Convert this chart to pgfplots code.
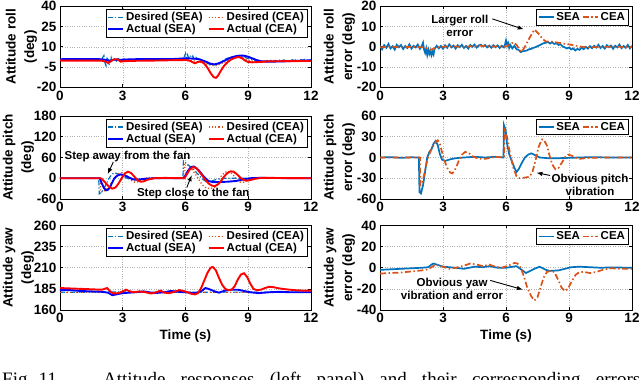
\documentclass[border=0pt]{standalone}
\usepackage{fontspec}
\setmainfont{Liberation Sans}
\newfontfamily\capfont{Liberation Serif}
\usepackage{pgfplots}
\pgfplotsset{compat=1.18}
\usetikzlibrary{arrows.meta}

\definecolor{mblue}{RGB}{0,114,189}
\definecolor{morange}{RGB}{217,83,25}
\newcommand{\tf}{\bfseries\fontsize{13.5}{18.5}\selectfont}
\newcommand{\af}{\bfseries\fontsize{11.5}{13}\selectfont}

\tikzset{arr/.style={-{Latex[length=6pt,width=4.5pt]}, line width=0.9pt, black}}

\pgfplotsset{
  panel/.style={
    scale only axis, xmin=0, xmax=12, xtick={0,3,6,9,12},
    grid=major, grid style={dotted, line width=0.5pt, gray!60},
    axis line style={line width=0.6pt},
    tick align=inside, major tick length=3pt,
    tick style={line width=0.6pt, black},
    ticklabel style={font=\tf},
    label style={font=\tf},
    ylabel style={align=center},
    /pgf/number format/assume math mode=true,
    clip mode=individual,
    legend cell align=left,
    legend style={font=\af, draw=black, inner sep=1pt, row sep=-2pt,
      at={(rel axis cs:0.985,0.965)}, anchor=north east},
    legend image code/.code={\draw[##1] (0pt,0pt) -- (15pt,0pt);},
  },
  leftp/.style={panel, width=251pt, legend columns=2, ylabel shift=-7pt,
    legend style={/tikz/every even column/.append style={column sep=3pt}}},
  rightp/.style={panel, width=252pt, legend columns=2, ylabel shift=-5pt},
  ds/.style={mblue, line width=1.2pt, dash pattern=on 5pt off 2pt on 1.2pt off 2pt},
  dc/.style={morange, line width=1.3pt, dash pattern=on 1.2pt off 2pt},
  as/.style={blue, line width=1.9pt},
  ac/.style={red, line width=1.9pt},
  es/.style={mblue, line width=1.7pt},
  ec/.style={morange, line width=1.7pt, dash pattern=on 6pt off 2.5pt on 1.5pt off 2.5pt},
}

\begin{document}
\begin{tikzpicture}

% ---------------- roll ----------------
\begin{axis}[leftp, at={(60pt,373.7pt)}, anchor=north west, height=81pt,
  ymin=-20, ymax=40, ytick={-20,-5,10,25,40},
  ylabel={Attitude roll\\(deg)}]
\addplot[ds] coordinates {
(0.0,0.8)(0.1,-0.2)(0.2,1.1)(0.3,0.3)(0.4,-0.5)(0.5,0.9)(0.6,0.2)(0.7,1.3)(0.8,-0.3)(0.9,0.6)
(1.0,0.1)(1.1,1.0)(1.2,-0.4)(1.3,0.7)(1.4,0.2)(1.5,1.2)(1.6,-0.1)(1.7,0.5)(1.8,0.9)(1.9,-0.6)
(2.0,1.0)(2.1,3.5)(2.15,-2)(2.2,-4)(2.25,1.5)(2.3,0.5)(2.35,-3)(2.4,-2.5)(2.45,1.8)(2.5,-1)
(2.6,0.8)(2.7,-0.5)(2.8,1.0)(2.9,0.2)(3.0,-0.3)(3.1,0.9)(3.2,0.1)(3.3,1.2)(3.4,0.4)(3.5,-0.2)
(3.6,0.8)(3.7,0.3)(3.8,1.0)(3.9,-0.1)(4.0,0.7)(4.1,0.2)(4.2,1.1)(4.3,0.5)(4.4,-0.2)(4.5,0.9)
(4.6,0.4)(4.7,1.3)(4.8,0.6)(4.9,0.2)(5.0,1.0)(5.1,0.5)(5.2,1.2)(5.3,0.4)(5.4,0.9)(5.5,0.3)
(5.6,1.1)(5.7,0.6)(5.8,0.2)(5.9,1.2)(6.0,5.0)(6.05,2.0)(6.1,4.0)(6.15,1.5)(6.2,3.5)(6.3,2.0)
(6.35,3.2)(6.4,1.0)(6.5,2.2)(6.6,0.5)(6.7,0.8)(6.8,-0.8)(6.9,-1.2)(7.0,-2.0)(7.1,-2.6)(7.2,-3.2)
(7.3,-3.0)(7.4,-3.6)(7.5,-2.8)(7.6,-2.2)(7.7,-1.0)(7.8,-0.2)(7.9,0.8)(8.0,1.5)(8.1,1.9)(8.2,2.6)
(8.3,2.4)(8.4,3.0)(8.5,2.8)(8.6,3.2)(8.7,2.5)(8.8,2.2)(8.9,1.8)(9.0,1.3)(9.1,0.6)(9.2,0.4)
(9.3,-0.3)(9.4,-0.6)(9.5,-0.2)(9.6,-1.0)(9.7,-0.4)(9.8,-0.9)(9.9,-0.2)(10.0,-0.8)(10.1,0.2)(10.2,-0.6)
(10.3,-0.1)(10.4,-0.9)(10.5,0.1)(10.6,-0.5)(10.7,0.3)(10.8,-0.4)(10.9,0.2)(11.0,-0.6)(11.1,0.4)(11.2,-0.2)
(11.3,0.6)(11.4,-0.3)(11.5,0.5)(11.6,0.0)(11.7,0.7)(11.8,-0.2)(11.9,0.5)(12.0,0.3)};
\addlegendentry{Desired (SEA)}
\addplot[dc] coordinates {
(0,0)(2.0,0)(2.2,-1)(2.4,-0.5)(2.6,0.5)(3,0)(6.0,0.3)(6.3,0)(6.6,-1.2)(6.9,-2.2)(7.2,-3.6)
(7.4,-4.2)(7.6,-3.2)(7.9,-1.2)(8.2,1.0)(8.5,2.4)(8.8,1.5)(9.1,-0.5)(9.4,-1.0)(10,-0.6)(12,-0.2)};
\addlegendentry{Desired (CEA)}
\addplot[as] coordinates {
(0,0.8)(1,0.9)(2,0.8)(2.2,0.2)(2.4,-0.3)(2.6,0.6)(2.9,0.4)(3.5,0.8)(4.5,0.9)(5.5,1.0)(6.0,1.5)
(6.3,1.3)(6.6,1.0)(6.8,0.0)(7.0,-1.2)(7.2,-2.6)(7.4,-3.0)(7.6,-2.2)(7.8,-0.8)(8.0,0.8)(8.2,2.2)
(8.4,3.0)(8.6,3.5)(8.8,3.4)(9.0,2.6)(9.2,1.4)(9.4,0.2)(9.6,-0.7)(9.9,-1.0)(10.5,-0.9)(11,-0.6)
(11.5,-0.3)(12,0)};
\addlegendentry{Actual (SEA)}
\addplot[ac] coordinates {
(0,-0.3)(1,-0.2)(2.0,-0.3)(2.15,-0.8)(2.3,-2.0)(2.45,-0.5)(2.6,0.8)(2.75,0.8)(2.9,-1.0)(3.1,-0.6)
(3.5,-0.4)(4.5,-0.2)(5.5,0.1)(6.0,0.2)(6.2,-0.3)(6.45,-2.2)(6.6,-1.2)(6.75,-0.8)(6.9,-2.5)(7.05,-5.5)
(7.2,-9.5)(7.35,-12.5)(7.45,-13)(7.55,-11.5)(7.7,-7.5)(7.85,-4)(8.0,-1.5)(8.2,0.8)(8.4,2.0)(8.55,2.5)
(8.7,1.5)(8.85,-0.2)(9.0,-1.3)(9.2,-1.5)(9.6,-1.2)(10,-0.8)(11,-0.6)(12,-0.5)};
\addlegendentry{Actual (CEA)}
\end{axis}

% ---------------- roll error ----------------
\begin{axis}[rightp, at={(380pt,373.7pt)}, anchor=north west, height=81pt,
  ymin=-20, ymax=20, ytick={-20,-10,0,10,20},
  ylabel={Attitude roll\\error (deg)}]
\addplot[es] coordinates {
(0.0,0.5)(0.1,-1.2)(0.2,0.8)(0.3,-0.5)(0.4,1.4)(0.5,-0.8)(0.6,0.3)(0.7,-1.4)(0.8,1.0)(0.9,-0.2)
(1.0,0.9)(1.1,-1.1)(1.2,0.4)(1.3,-0.6)(1.4,1.2)(1.5,-0.9)(1.6,0.5)(1.7,-0.3)(1.8,1.1)(1.9,-1.0)
(2.0,0.6)(2.05,2.0)(2.1,-1.5)(2.15,-3.0)(2.2,-0.8)(2.25,-4.0)(2.3,-1.5)(2.35,-3.5)(2.4,-2.0)(2.45,-4.2)
(2.5,-2.5)(2.55,-3.8)(2.6,-1.0)(2.7,0.5)(2.8,-0.8)(2.9,0.4)(3.0,-1.0)(3.1,0.7)(3.2,-0.5)(3.3,1.2)
(3.4,-0.3)(3.5,0.6)(3.6,-0.9)(3.7,0.8)(3.8,-0.2)(3.9,1.0)(4.0,-0.6)(4.1,0.4)(4.2,-0.9)(4.3,0.9)
(4.4,0.0)(4.5,1.1)(4.6,-0.4)(4.7,0.7)(4.8,1.0)(4.9,0.2)(5.0,0.9)(5.1,-0.3)(5.2,0.6)(5.3,-0.5)
(5.4,0.8)(5.5,-0.2)(5.6,0.7)(5.7,-0.6)(5.8,0.5)(5.9,-0.3)(5.95,1.0)(6.0,3.2)(6.05,1.2)(6.1,2.0)
(6.15,-0.5)(6.2,1.0)(6.3,-0.8)(6.4,0.5)(6.5,-1.2)(6.6,-1.5)(6.7,-2.6)(6.8,-2.2)(6.9,-2.0)(7.0,-1.8)
(7.1,-1.2)(7.2,-1.0)(7.3,-0.5)(7.4,-0.2)(7.5,0.3)(7.6,0.8)(7.7,1.3)(7.8,1.8)(7.9,2.0)(8.0,2.4)
(8.1,1.6)(8.2,2.2)(8.3,1.4)(8.4,1.8)(8.5,0.9)(8.6,1.2)(8.7,0.2)(8.8,-0.3)(8.9,-0.8)(9.0,-0.4)
(9.1,-1.3)(9.2,-0.8)(9.3,-1.8)(9.4,-1.0)(9.5,-1.5)(9.6,-0.4)(9.7,-1.2)(9.8,0.0)(9.9,-0.9)(10.0,0.3)
(10.1,-0.7)(10.2,0.5)(10.3,-0.4)(10.4,1.0)(10.5,-0.6)(10.6,0.4)(10.7,-0.9)(10.8,0.8)(10.9,-0.2)(11.0,0.6)
(11.1,-1.0)(11.2,0.5)(11.3,-0.3)(11.4,1.1)(11.5,-0.7)(11.6,0.4)(11.7,-0.5)(11.8,0.9)(11.9,-0.8)(12.0,0.5)};
\addlegendentry{SEA}
\addplot[ec] coordinates {
(0,-0.3)(0.5,0.1)(1,-0.2)(1.5,0.0)(2.0,-0.2)(2.2,-0.6)(2.4,-1.5)(2.6,-0.8)(2.8,-0.2)(3.2,0.2)
(4,0.0)(4.7,0.6)(5.2,0.2)(6.0,0.1)(6.2,1.2)(6.35,2.2)(6.5,1.0)(6.65,-1.5)(6.75,-2.5)(6.9,0.0)
(7.1,4.0)(7.35,8.5)(7.55,6.5)(7.75,3.8)(7.9,2.6)(8.2,2.5)(8.5,2.0)(8.8,1.5)(9.0,1.2)(9.3,0.6)
(9.6,0.0)(10,-0.2)(11,0.0)(12,-0.1)};
\addlegendentry{CEA}
\node[font=\af, align=center] at (axis cs:3.8,10.4) {Larger roll\\error};
\draw[arr] (axis cs:5.35,13.8) -- (axis cs:6.85,8.6);
\end{axis}

% ---------------- pitch ----------------
\begin{axis}[leftp, at={(60pt,264pt)}, anchor=north west, height=83pt,
  ymin=-60, ymax=180, ytick={-60,0,60,120,180},
  ylabel={Attitude pitch\\(deg)}]
\addplot[ds] coordinates {
(0,0)(1.85,0)(1.88,-45)(2.0,-40)(2.1,-30)(2.2,-18)(2.3,-5)(2.4,5)(2.5,12)(2.6,16)(2.7,14)
(2.85,10)(3.0,6)(3.2,0)(3.4,-4)(3.6,-5)(3.8,-3)(4.0,-1)(4.5,0)(5.0,1)(5.88,1)(5.9,50)(6.0,45)
(6.1,40)(6.2,35)(6.35,28)(6.5,18)(6.65,8)(6.8,-2)(6.95,-8)(7.1,-10)(7.25,-8)(7.5,-3)(7.8,0)
(8.5,0)(9,0)(12,0)};
\addlegendentry{Desired (SEA)}
\addplot[dc] coordinates {
(0,0)(1.92,0)(1.95,-40)(2.1,-38)(2.25,-30)(2.4,-18)(2.55,-5)(2.7,8)(2.85,15)(3.0,16)(3.15,10)
(3.3,0)(3.45,-8)(3.6,-12)(3.75,-10)(3.9,-5)(4.1,0)(4.3,2)(4.6,0)(5.9,0)(5.95,40)(6.1,38)
(6.25,30)(6.4,18)(6.55,5)(6.7,-10)(6.85,-22)(7.0,-28)(7.2,-30)(7.4,-26)(7.55,-12)(7.7,5)
(7.85,16)(8.0,20)(8.15,18)(8.3,8)(8.45,-4)(8.6,-11)(8.75,-12)(8.9,-8)(9.1,-2)(9.4,1)(9.8,0)(12,0)};
\addlegendentry{Desired (CEA)}
\addplot[as] coordinates {
(0,0)(1.9,0)(2.0,-15)(2.1,-28)(2.2,-35)(2.3,-33)(2.4,-25)(2.5,-12)(2.6,0)(2.75,8)(2.9,11)
(3.1,8)(3.3,2)(3.5,-3)(3.7,-4)(4.0,-2)(4.5,0)(5.9,0)(6.0,8)(6.1,20)(6.2,28)(6.3,33)(6.4,34)
(6.5,30)(6.65,22)(6.8,10)(6.95,0)(7.1,-8)(7.3,-11)(7.6,-11)(8.0,-10)(8.4,-8)(8.8,-3)(9.1,0)
(9.5,1)(12,0)};
\addlegendentry{Actual (SEA)}
\addplot[ac] coordinates {
(0,0)(1.95,0)(2.05,-5)(2.2,-15)(2.35,-25)(2.5,-30)(2.65,-27)(2.8,-15)(2.95,0)(3.1,14)(3.25,19)
(3.4,15)(3.55,5)(3.7,-5)(3.85,-10)(4.0,-9)(4.2,-4)(4.5,0)(5,1)(5.95,0)(6.05,10)(6.2,25)
(6.35,32)(6.5,30)(6.65,20)(6.8,8)(6.95,-5)(7.1,-15)(7.25,-21)(7.4,-23)(7.55,-18)(7.7,-8)
(7.85,5)(8.0,15)(8.15,20)(8.3,19)(8.45,12)(8.6,3)(8.75,-4)(8.9,-7)(9.05,-6)(9.3,-2)(9.6,1)
(10,1)(12,0)};
\addlegendentry{Actual (CEA)}
\node[font=\af] at (axis cs:3.23,64) {Step away from the fan};
\draw[arr] (axis cs:2.55,47) -- (axis cs:2.28,12);
\node[font=\af] at (axis cs:6.37,-44) {Step close to the fan};
\draw[arr] (axis cs:6.06,-27) -- (axis cs:6.3,9);
\end{axis}

% ---------------- pitch error ----------------
\begin{axis}[rightp, at={(380pt,264pt)}, anchor=north west, height=83pt,
  ymin=-60, ymax=60, ytick={-60,-30,0,30,60},
  ylabel={Attitude pitch\\error (deg)}]
\addplot[es] coordinates {
(0,0)(0.5,0.5)(1,-0.5)(1.5,0.3)(1.85,0)(1.88,-50)(1.95,-52)(2.05,-40)(2.15,-20)(2.25,0)(2.35,8)
(2.45,12)(2.55,20)(2.65,24)(2.75,18)(2.85,5)(2.95,-3)(3.1,-5)(3.3,-3)(3.6,-1)(4.0,0)(4.5,1)
(5.0,0)(5.5,1)(5.88,0)(5.9,47)(5.98,40)(6.05,20)(6.15,5)(6.25,-3)(6.4,-15)(6.5,-21)(6.6,-17)
(6.75,-8)(6.9,0)(7.05,4)(7.2,6)(7.35,4)(7.6,0)(8,-1)(8.5,-1)(9,-0.5)(9.5,0)(10,0.5)(11,0)(12,0)};
\addlegendentry{SEA}
\addplot[ec] coordinates {
(0,0)(1,0)(1.9,0)(1.92,-40)(2.0,-38)(2.1,-25)(2.2,-10)(2.35,5)(2.5,15)(2.65,22)(2.75,25)
(2.85,20)(2.95,8)(3.05,-3)(3.2,-15)(3.35,-22)(3.45,-23)(3.6,-16)(3.75,-5)(3.9,4)(4.05,8)
(4.2,7)(4.4,2)(4.7,-2)(5.0,-2)(5.5,1)(5.9,0)(5.95,38)(6.05,30)(6.15,12)(6.25,-2)(6.35,-15)
(6.5,-27)(6.65,-30)(6.9,-29)(7.1,-28)(7.25,-22)(7.4,-5)(7.55,15)(7.7,26)(7.8,26)(7.95,17)
(8.1,0)(8.2,-10)(8.35,-17)(8.5,-15)(8.65,-8)(8.8,0)(8.95,4)(9.1,3)(9.3,0)(9.5,-2)(9.8,-1)
(10.5,0)(12,0)};
\addlegendentry{CEA}
\node[font=\af, align=center] at (axis cs:10.0,-40) {Obvious pitch\\vibration};
\draw[arr] (axis cs:8.1,-26) -- (axis cs:7.45,-22);
\end{axis}

% ---------------- yaw ----------------
\begin{axis}[leftp, at={(60pt,154.5pt)}, anchor=north west, height=84.5pt,
  ymin=160, ymax=260, ytick={160,185,210,235,260},
  ylabel={Attitude yaw\\(deg)}, xlabel={Time (s)}]
\addplot[ds] coordinates {(0,181)(3,181.3)(6,181)(9,181.2)(12,181)};
\addlegendentry{Desired (SEA)}
\addplot[dc] coordinates {(0,180.8)(6,180.8)(12,180.8)};
\addlegendentry{Desired (CEA)}
\addplot[as] coordinates {
(0,183.5)(0.5,183.5)(1,182.5)(1.5,182)(2,181.5)(2.3,180.5)(2.5,177.5)(2.7,178.5)(3.0,180)
(3.3,180.5)(3.6,181)(4.0,182)(4.5,180)(5.0,181)(5.3,182.5)(5.7,181.5)(6.0,181)(6.5,180)
(6.8,183)(6.95,186)(7.1,185)(7.4,182)(7.6,180.5)(7.9,183)(8.2,184)(8.5,184)(8.8,182.5)
(9.1,181)(9.5,180)(10,181)(10.5,181.5)(11,181)(12,181)};
\addlegendentry{Actual (SEA)}
\addplot[ac] coordinates {
(0,186)(0.5,185.5)(1,185)(1.5,184.5)(2.0,184)(2.25,186)(2.4,182)(2.55,179.5)(2.8,180)(3.0,182)
(3.15,184)(3.3,182.5)(3.5,181)(3.8,182)(4.1,181)(4.35,179.5)(4.6,181)(4.8,183)(5.0,180.5)
(5.2,180)(5.4,181)(5.7,183.5)(5.9,182.5)(6.1,181)(6.3,179)(6.45,178.5)(6.6,180)(6.75,186)
(6.9,195)(7.05,204)(7.2,210)(7.3,211)(7.45,207)(7.6,198)(7.75,190)(7.9,185)(8.05,183.5)
(8.2,184)(8.35,188)(8.5,196)(8.65,202)(8.8,203.5)(8.95,199)(9.1,191)(9.25,185)(9.4,183.5)
(9.6,184)(9.8,186)(10.0,187.5)(10.2,187)(10.5,185.5)(10.8,184.5)(11.2,183.5)(11.6,183)(12,183)};
\addlegendentry{Actual (CEA)}
\end{axis}

% ---------------- yaw error ----------------
\begin{axis}[rightp, at={(380pt,154.5pt)}, anchor=north west, height=84.5pt,
  ymin=-40, ymax=40, ytick={-40,-20,0,20,40},
  ylabel={Attitude yaw\\error (deg)}, xlabel={Time (s)}]
\addplot[es] coordinates {
(0,-2)(0.5,-1.5)(1,-1)(1.5,-0.5)(2.0,0)(2.3,0.5)(2.45,3)(2.55,4)(2.7,3)(3.0,1)(3.3,0.5)
(3.6,0)(4.0,-1)(4.5,1)(4.9,0.5)(5.2,1.5)(5.6,0)(6.0,0)(6.5,1.5)(6.75,-2)(6.95,-5)(7.15,-3)
(7.35,-1)(7.6,1)(7.9,-2)(8.1,-3)(8.5,-2.5)(8.8,-1)(9.1,0.5)(9.5,1)(10,0.5)(10.5,0)(11,0.3)(12,0)};
\addlegendentry{SEA}
\addplot[ec] coordinates {
(0,-5.5)(0.5,-5)(1,-4.5)(1.5,-3.5)(2,-2.5)(2.3,-1.5)(2.45,0.5)(2.65,3)(2.8,2)(3.0,1)(3.3,-1)
(3.6,0)(4.0,2)(4.3,4)(4.6,3)(4.9,1.5)(5.2,3)(5.5,1)(5.8,0)(6.1,2)(6.4,4.5)(6.55,4)(6.7,0)
(6.85,-8)(7.0,-18)(7.2,-27)(7.35,-31)(7.5,-28)(7.65,-18)(7.8,-9)(7.95,-4)(8.1,-3)(8.3,-4)
(8.5,-12)(8.65,-19)(8.8,-22)(8.95,-20)(9.1,-14)(9.3,-7)(9.5,-4)(9.7,-4)(10.0,-5)(10.3,-4)
(10.6,-2)(11,-0.5)(11.5,-1)(12,-1)};
\addlegendentry{CEA}
\node[font=\af, align=center] at (axis cs:3.43,-19.8) {Obvious yaw\\vibration and error};
\draw[arr] (axis cs:5.25,-12) -- (axis cs:6.8,-20.7);
\end{axis}

% caption line, cut by the lower edge
\node[anchor=base west, inner sep=0pt] at (2pt,-6pt) {\capfont\fontsize{19}{19}\selectfont Fig. 11.};
\node[anchor=base west, inner sep=0pt] at (103pt,-6pt) {\capfont\fontsize{19}{19}\selectfont\makebox[537pt][s]{Attitude responses (left panel) and their corresponding errors}};

\pgfresetboundingbox
\useasboundingbox (0pt,0pt) rectangle (640pt,380pt);
\end{tikzpicture}
\end{document}
